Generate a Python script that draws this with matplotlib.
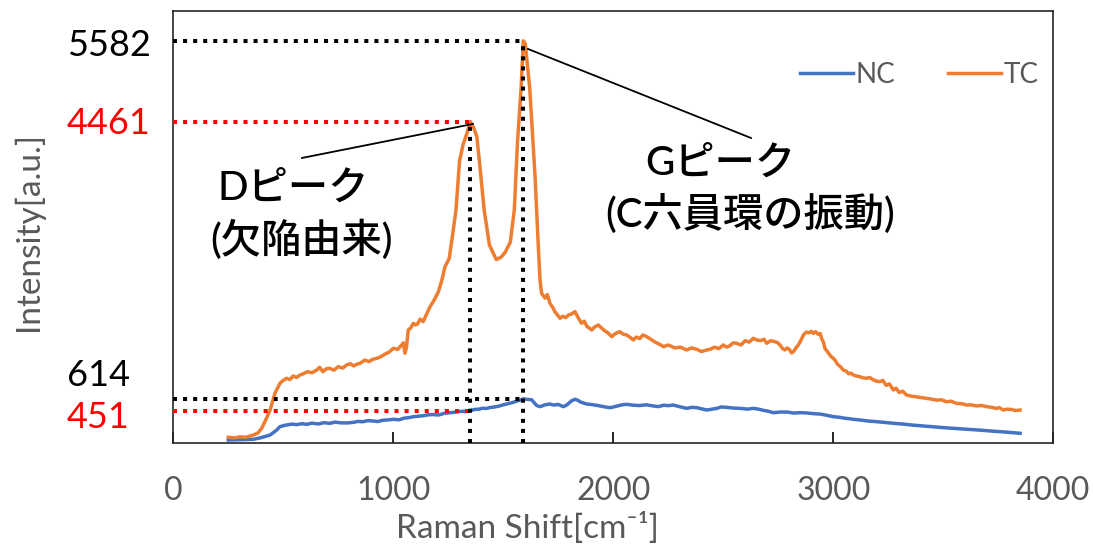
import matplotlib
matplotlib.use('Agg')
import matplotlib.pyplot as plt

# Raman spectra, TC and NC
tc_shift = [250, 280, 300, 330, 364, 385, 402, 420, 440, 462, 475, 485, 500, 515, 530,
            545, 560, 576, 590, 610, 630, 652, 665, 680, 695, 712, 730, 750, 770, 788,
            805, 820, 835, 849, 870, 890, 905, 925, 945, 960, 980, 1000, 1020, 1038, 1046,
            1053, 1060, 1068, 1080, 1091, 1100, 1110, 1122, 1136, 1150, 1167, 1185, 1205,
            1220, 1235, 1254, 1270, 1285, 1301, 1318, 1335, 1350, 1365, 1380, 1395, 1413,
            1437, 1468, 1490, 1508, 1532, 1550, 1565, 1581, 1591, 1600, 1620, 1644, 1659,
            1667, 1674, 1690, 1700, 1712, 1725, 1735, 1758, 1770, 1784, 1796, 1810, 1826,
            1840, 1856, 1868, 1880, 1902, 1915, 1932, 1945, 1960, 1975, 1993, 2010, 2030,
            2045, 2060, 2075, 2091, 2105, 2120, 2135, 2152, 2170, 2190, 2210, 2228, 2250,
            2280, 2305, 2334, 2355, 2380, 2400, 2425, 2440, 2460, 2480, 2500, 2515, 2530,
            2545, 2561, 2580, 2600, 2618, 2636, 2652, 2670, 2685, 2697, 2715, 2735, 2748,
            2760, 2770, 2780, 2790, 2800, 2810, 2819, 2830, 2841, 2852, 2864, 2877, 2890,
            2900, 2909, 2920, 2930, 2940, 2947, 2955, 2962, 2970, 2980, 2990, 3000, 3010,
            3020, 3032, 3045, 3058, 3070, 3080, 3091, 3105, 3120, 3135, 3152, 3165, 3180,
            3195, 3212, 3225, 3240, 3255, 3273, 3285, 3300, 3315, 3333, 3355, 3380, 3400,
            3424, 3445, 3470, 3490, 3515, 3535, 3560, 3585, 3606, 3625, 3650, 3675, 3697,
            3720, 3740, 3755, 3773, 3790, 3810, 3830, 3849]
tc_int = [79, 72, 85, 80, 111, 140, 204, 320, 458, 690, 770, 829, 870, 898, 880,
          930, 910, 944, 960, 990, 975, 1013, 1050, 990, 1030, 1036, 1010, 1060, 1040, 1083,
          1100, 1070, 1095, 1106, 1150, 1130, 1160, 1175, 1200, 1230, 1260, 1314, 1300, 1360, 1390,
          1245, 1330, 1568, 1600, 1661, 1640, 1650, 1720, 1684, 1780, 1892, 1980, 2100,
          2250, 2447, 2560, 2900, 3234, 3914, 4150, 4300, 4461, 4380, 4250, 3800, 3234,
          2748, 2546, 2580, 2644, 2790, 3234, 4200, 4930, 5582, 5540, 4930, 3720, 2740,
          2262, 2077, 2010, 2060, 1939, 1880, 1820, 1731, 1760, 1740, 1777, 1790, 1823,
          1740, 1661, 1690, 1620, 1568, 1610, 1638, 1600, 1560, 1530, 1476, 1520, 1545,
          1510, 1500, 1470, 1430, 1470, 1450, 1500, 1476, 1440, 1400, 1370, 1337, 1360,
          1320, 1330, 1291, 1320, 1300, 1270, 1291, 1300, 1330, 1310, 1360, 1330, 1350,
          1390, 1384, 1360, 1420, 1400, 1453, 1430, 1420, 1440, 1384, 1420, 1406, 1390,
          1350, 1310, 1291, 1320, 1300, 1250, 1267, 1320, 1360, 1420, 1499, 1540, 1530,
          1550, 1522, 1545, 1510, 1520, 1453, 1400, 1314, 1280, 1240, 1200, 1175, 1140,
          1090, 1060, 1013, 1000, 960, 970, 944, 930, 920, 905, 898, 910, 880,
          860, 851, 870, 800, 820, 736, 760, 700, 720, 666, 650, 640, 630,
          620, 610, 595, 600, 573, 580, 550, 545, 527, 530, 515, 520, 504,
          495, 480, 490, 458, 470, 465, 450, 458]

nc_shift = [250, 300, 364, 400, 440, 470, 485, 500, 515, 540, 560, 585, 606, 630, 660,
            685, 712, 735, 760, 790, 819, 840, 860, 885, 909, 930, 950, 975, 1000, 1025,
            1050, 1070, 1091, 1115, 1140, 1160, 1182, 1205, 1230, 1250, 1273, 1290, 1310,
            1330, 1350, 1370, 1390, 1405, 1424, 1440, 1460, 1480, 1500, 1520, 1540, 1555,
            1570, 1580, 1591, 1610, 1629, 1640, 1652, 1667, 1690, 1712, 1727, 1750, 1773,
            1790, 1800, 1813, 1826, 1838, 1850, 1865, 1879, 1900, 1930, 1955, 1985, 2000,
            2020, 2040, 2061, 2090, 2120, 2150, 2182, 2205, 2230, 2250, 2273, 2300, 2334,
            2355, 2380, 2400, 2425, 2450, 2470, 2490, 2515, 2545, 2580, 2610, 2636, 2660,
            2680, 2705, 2727, 2760, 2790, 2820, 2849, 2875, 2900, 2920, 2939, 2970, 3000,
            3025, 3050, 3070, 3091, 3125, 3160, 3200, 3243, 3280, 3320, 3355, 3394, 3430,
            3470, 3505, 3545, 3580, 3620, 3660, 3697, 3735, 3770, 3810, 3849]
nc_int = [42, 45, 51, 75, 111, 180, 227, 240, 250, 262, 255, 268, 259, 275, 265,
          282, 273, 290, 280, 278, 287, 300, 295, 310, 305, 298, 315, 320, 329, 322,
          345, 352, 365, 372, 380, 392, 395, 388, 410, 418, 425, 432, 440,
          436, 451, 465, 470, 482, 480, 492, 500, 512, 530, 545, 560, 575,
          590, 598, 614, 605, 600, 560, 520, 504, 530, 541, 527, 535, 504,
          530, 560, 590, 607, 595, 570, 555, 541, 535, 520, 505, 490, 500,
          515, 530, 537, 525, 520, 530, 514, 505, 525, 518, 527, 505, 481,
          495, 490, 475, 458, 470, 480, 500, 495, 485, 480, 470, 481, 470,
          455, 440, 421, 430, 430, 415, 421, 418, 410, 405, 402, 385, 365,
          358, 345, 338, 329, 318, 305, 295, 282, 272, 262, 250, 240, 230,
          222, 212, 204, 196, 188, 180, 171, 162, 155, 145, 135]

# peak positions and the intensities marked on the left
d_shift, g_shift = 1350, 1591
tc_d, tc_g = 4461, 5582
nc_d, nc_g = 451, 614

BLUE = '#4472C4'
ORANGE = '#ED7D31'
GRAY = '#595959'
LATIN = ['Lato', 'DejaVu Sans']
JP = ['Lato', 'Noto Sans CJK JP', 'DejaVu Sans']

fig = plt.figure(figsize=(10.94, 5.48), dpi=100)
ax = fig.add_axes([0.1584, 0.1916, 0.8044, 0.7889])

ax.plot(nc_shift, nc_int, color=BLUE, lw=2.5, label='NC')
ax.plot(tc_shift, tc_int, color=ORANGE, lw=2.5, label='TC')

dot = dict(lw=2.9, linestyle=(0, (1, 1.5)), dash_capstyle='butt', zorder=5)
ax.plot([0, g_shift], [tc_g, tc_g], color='black', **dot)
ax.plot([0, d_shift], [tc_d, tc_d], color='red', **dot)
ax.plot([0, g_shift], [nc_g, nc_g], color='black', **dot)
ax.plot([0, d_shift], [nc_d, nc_d], color='red', **dot)
ax.plot([d_shift, d_shift], [0, tc_d], color='black', **dot)
ax.plot([g_shift, g_shift], [0, tc_g], color='black', **dot)

# leader lines to the peak labels
ax.plot([585, 1362], [3956, 4428], color='black', lw=1.3, zorder=6)
ax.plot([1612, 2626], [5469, 4233], color='black', lw=1.3, zorder=6)

jp = dict(family=JP, fontsize=29, fontweight='medium', ha='center', va='center')
ax.text(544, 3540, 'Dピーク', **jp)
ax.text(585, 2820, '(欠陥由来)', **jp)
ax.text(2485, 3890, 'Gピーク', **jp)
ax.text(2621, 3165, '(C六員環の振動)', **jp)

ax.set_xlim(0, 4000)
ax.set_ylim(0, 6000)
ax.set_xticks([0, 1000, 2000, 3000, 4000])
ax.set_yticks([])
ax.tick_params(axis='x', direction='in', length=8, width=1.2, pad=24,
               labelsize=23, labelcolor=GRAY)
for lab in ax.get_xticklabels():
    lab.set_family(LATIN)
for s in ax.spines.values():
    s.set_linewidth(1.2)
    s.set_color('#262626')

leg = ax.legend(loc='center right', bbox_to_anchor=(1.012, 0.851), ncol=2, frameon=False,
                handlelength=1.9, handletextpad=0.1, columnspacing=1.9,
                prop={'family': LATIN, 'size': 20})
for t in leg.get_texts():
    t.set_color(GRAY)

# intensity values written beside the axis
for val, py, col in [(tc_g, 45, 'black'), (tc_d, 123, 'red'), (nc_g, 376, 'black'), (nc_d, 418, 'red')]:
    fig.text(67 / 1094, 1 - py / 548, str(val), color=col, family=LATIN, fontsize=26,
             ha='left', va='center')

fig.text(527 / 1094, 1 - 528 / 548, 'Raman Shift[cm⁻¹]', color=GRAY, family=LATIN,
         fontsize=24, ha='center', va='center')
fig.text(28 / 1094, 1 - 232 / 548, 'Intensity[a.u.]', color=GRAY, family=LATIN,
         fontsize=24, ha='center', va='center', rotation=90)

fig.savefig('out.png', dpi=100)
